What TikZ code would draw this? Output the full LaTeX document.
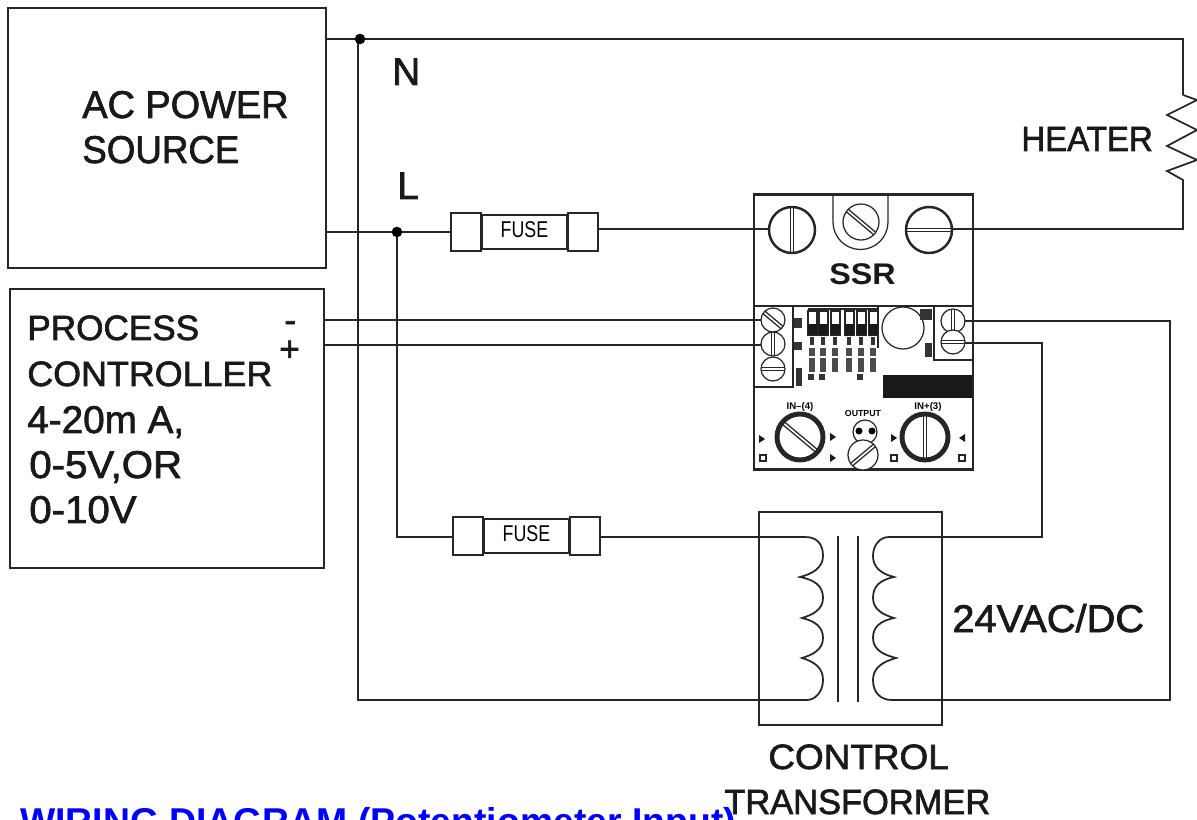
\documentclass[tikz,border=0pt]{standalone}
\usepackage{fontspec}
\setmainfont{Liberation Sans}
\newfontfamily\heavyfont[FakeBold=1.8]{Liberation Sans}
\usetikzlibrary{positioning}
\usetikzlibrary{calc}
\tikzset{
  wire/.style={line width=1pt,black!85},
  box/.style={draw=black!85,line width=1.2pt,inner sep=0pt},
  lbl/.style={inner sep=0pt,anchor=base west,font=\heavyfont\fontsize{20}{20}\selectfont,text=black!90},
  lblbig/.style={lbl,font=\heavyfont\fontsize{22}{22}\selectfont},
  tiny/.style={inner sep=0pt,anchor=center,font=\bfseries\fontsize{5.5}{6}\selectfont},
  dot/.style={circle,fill=black,inner sep=0pt,minimum size=6pt},
  thinline/.style={line width=0.7pt,black!85}
}
\begin{document}
\begin{tikzpicture}[x=0.02cm,y=-0.02cm]
    \useasboundingbox (0,0) rectangle (1197,820);
    \clip (0,0) rectangle (1197,820);
    % Define the coordinates of the points
    \coordinate (nstart) at (326,39);
    \coordinate (ncorner) at (1183,39);
    \coordinate (htop) at (1183,95);
    \coordinate (hbot) at (1183,180);
    \coordinate (hcorner) at (1183,229);
    \coordinate (lstart) at (326,232);
    \coordinate (ltop) at (397,232);
    \coordinate (ldown) at (397,537);
    \coordinate (ntop) at (358,39);
    \coordinate (nbot) at (358,700);
    \coordinate (pcorner) at (1042,343);
    \coordinate (pdown) at (1042,537);
    \coordinate (mcorner) at (1170,321);
    \coordinate (mdown) at (1170,700);
    \coordinate (lcoiltop) at (805,537);
    \coordinate (lcoilbot) at (807,700);
    \coordinate (rcoiltop) at (889,537);
    \coordinate (rcoilbot) at (892,700);
    \coordinate (sa) at (770,229);
    \coordinate (sb) at (952,229);
    \coordinate (minus) at (324,320);
    \coordinate (plus) at (324,345);
    \coordinate (mend) at (763,320);
    \coordinate (pend) at (763,345);
    \coordinate (tminus) at (965,321);
    \coordinate (tplus) at (965,343);

    % Boxes
    \node[box,minimum width=6.36cm,minimum height=5.2cm] (source) at (167,138) {};
    \node[box,minimum width=6.28cm,minimum height=5.58cm] (controller) at (167,428.5) {};
    \node[box,minimum width=3.66cm,minimum height=4.26cm] (transformer) at (850.5,618.5) {};
    \node[box,fill=white,minimum width=4.38cm,minimum height=5.5cm] (ssr) at (863.5,332) {};

    % Fuses
    \foreach \name/\cx/\cy in {fusea/524.5/232,fuseb/526.5/536} {
        \node[box,minimum width=1.7cm,minimum height=0.68cm] (\name) at (\cx,\cy) {};
        \node[box,fill=white,minimum width=0.6cm,minimum height=0.76cm,left=-0.02cm of \name.west] (\name l) {};
        \node[box,fill=white,minimum width=0.6cm,minimum height=0.76cm,right=-0.02cm of \name.east] (\name r) {};
        \node[font=\fontsize{13}{13}\selectfont,xscale=0.78] at ([yshift=0.05cm]\name) {FUSE};
    }

    % Wires
    \draw[wire] (nstart) -- (ncorner) -- (htop);
    \draw[wire] (htop) -- (1197,100) -- (1167,115) -- (1197,130) -- (1167,146) -- (1197,160) -- (1167,171) -- (hbot) -- (hcorner) -- (sb);
    \draw[wire] (lstart) -- (lstart -| fuseal.west);
    \draw[wire] (fusear.east |- sa) -- (sa);
    \draw[wire] (ntop) -- (nbot) -- (lcoilbot);
    \draw[wire] (ltop) -- (ldown) -- (ldown -| fusebl.west);
    \draw[wire] (fusebr.east |- lcoiltop) -- (lcoiltop);
    \draw[wire] (minus) -- (mend);
    \draw[wire] (plus) -- (pend);
    \draw[wire] (tminus) -- (mcorner -| ssr.east) -- (mcorner) -- (mdown) -- (rcoilbot);
    \draw[wire] (tplus) -- (pcorner) -- (pdown) -- (rcoiltop);
    \node[dot] (ndot) at (360,39) {};
    \node[dot] (ldot) at (ltop) {};

    % Coils and core
    \draw[wire] (lcoiltop) .. controls (818,537) and (823,545) .. (823,556) .. controls (823,568) and (812,574) .. (800,577)
        .. controls (815,580) and (823,586) .. (823,598) .. controls (823,610) and (812,615) .. (802,618)
        .. controls (815,621) and (823,627) .. (823,638) .. controls (823,650) and (812,655) .. (802,658)
        .. controls (815,662) and (823,668) .. (823,680) .. controls (823,692) and (815,700) .. (lcoilbot);
    \draw[wire] (rcoiltop) .. controls (880,537) and (873,545) .. (873,556) .. controls (873,568) and (882,574) .. (894,577)
        .. controls (880,580) and (873,586) .. (873,598) .. controls (873,610) and (884,615) .. (894,618)
        .. controls (880,621) and (873,627) .. (873,638) .. controls (873,650) and (884,655) .. (896,658)
        .. controls (882,662) and (873,668) .. (873,680) .. controls (873,692) and (880,700) .. (rcoilbot);
    \draw[wire] (838,536) -- (838,702);
    \draw[wire] (858,536) -- (858,702);

    % SSR
    \draw[wire] (754,306) -- (973,306);
    \draw[wire] (754,387) -- (793,387) -- (793,306);
    \draw[wire] (934,306) -- (934,360) -- (973,360);
    \draw[wire] (878,306) -- (878,348);
    \draw[thinline] (808,309) -- (878,309);
    \draw[thinline] (833,195) -- (833,222) arc[start angle=180,end angle=0,radius=27.5] -- (888,195);
    \fill[black!90] (883,375) rectangle (972,398);
    \draw[thinline] (903,328) circle (21);
    % output lamp
    \filldraw[fill=white,draw=black!85,line width=0.7pt] (865,432) circle (12);
    \fill[black] (859,431) circle (3.5);
    \fill[black] (872,431) circle (3.5);
    % screws: x/y/radius/slot angle/rim width
    \foreach \sx/\sy/\sr/\sa/\sw in {792/230/23/90/1.4,861/222/18/-40/0.7,929/230/23/0/1.4,
        773/320/12/-40/0.7,773/344/12/90/0.7,773/369/12/0/0.7,953/321/12/90/0.7,953/342/12/0/0.7,
        800/437/23/-40/2.8,925/437/23/90/2.8,863/455/15/40/0.7} {
        \filldraw[fill=white,draw=black!85,line width=\sw pt] (\sx,\sy) circle (\sr);
        \begin{scope}[shift={(\sx,\sy)},rotate=\sa]
            \draw[thinline] (-\sr,-1.6) -- (\sr,-1.6);
            \draw[thinline] (-\sr,1.6) -- (\sr,1.6);
        \end{scope}
    }
    % DIP switches
    \foreach \dx in {808,819,831,845,857,869} {
        \draw[thinline] (\dx,311) rectangle ++(9,24);
        \fill[black!90] (\dx,324) rectangle ++(9,11);
        \fill[black!80] (\dx+2,337) rectangle ++(4,8);
        \fill[black!70] (\dx+1,348) rectangle ++(6,8);
        \fill[black!70] (\dx+1,358) rectangle ++(6,14);
    }
    \foreach \bx/\by/\bw/\bh in {794/318/8/10,794/342/8/8,796/368/6/18,920/309/12/11,925/343/7/14,808/374/6/6,819/374/6/6,857/374/6/6}
        \fill[black!80] (\bx,\by) rectangle ++(\bw,\bh);
    % terminals
    \foreach \tx/\ty in {762/439,833/437,833/458,894/438} \fill[black!90] (\tx-3,\ty-4) -- (\tx+3,\ty) -- (\tx-3,\ty+4) -- cycle;
    \fill[black!90] (965,434) -- (959,438) -- (965,442) -- cycle;
    \foreach \tx/\ty in {763/458,894/458,962/458} \draw[thinline] (\tx-3,\ty-3) rectangle (\tx+3,\ty+3);

    % Labels
    \node[tiny] (inminus) at (800,407) {IN--(4)};
    \node[tiny] (inplus) at (928,407) {IN+(3)};
    \node[tiny,font=\bfseries\fontsize{5}{6}\selectfont] (output) at (863,413) {OUTPUT};
    \node[lblbig,xscale=0.98] (ac) at (82,118) {AC POWER};
    \node[lblbig,xscale=0.95] (src) at (82,163) {SOURCE};
    \node[lblbig] (n) at (392,85) {N};
    \node[lblbig] (l) at (397,199) {L};
    \node[lbl,xscale=0.94] (heater) at (1021,151) {HEATER};
    \node[lbl,font=\bfseries\fontsize{17}{17}\selectfont,xscale=1.08] (ssrlabel) at (829,285) {SSR};
    \node[lbl] (proc) at (27,340) {PROCESS};
    \node[lbl,xscale=1.02] (cont) at (27,386) {CONTROLLER};
    \node[lblbig] (range) at (27,433) {4-20m A,};
    \node[lblbig,xscale=1.04] (volta) at (29,478) {0-5V,OR};
    \node[lblbig,xscale=1.04] (voltb) at (29,523) {0-10V};
    \node[lbl] (mi) at (284,332) {-};
    \node[lbl] (pl) at (279,361) {+};
    \node[lblbig,xscale=1.03] (vac) at (952,632) {24VAC/DC};
    \node[lbl,xscale=1.05] (ctrl) at (768,769) {CONTROL};
    \node[lbl,xscale=0.98] (trans) at (724,814) {TRANSFORMER};
    \node[lbl,font=\bfseries\fontsize{21.25}{22}\selectfont,text=blue] (title) at (20,834) {WIRING DIAGRAM (Potentiometer Input)};
\end{tikzpicture}
\end{document}
